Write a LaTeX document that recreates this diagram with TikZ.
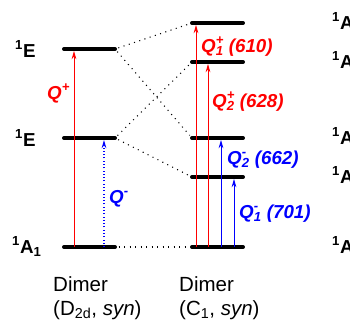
\documentclass[tikz,border=0pt]{standalone}
\usepackage{fontspec}
\setmainfont{Liberation Sans}
\usetikzlibrary{arrows.meta}

\newcommand\Qss[2]{\textit{Q}\rlap{\textsuperscript{#1}}\textsubscript{#2}}

\tikzset{
  level/.style={line width=3.4pt, line cap=round},
  link/.style={line width=0.9pt, dash pattern=on 0.9pt off 3.8pt, shorten <=3pt, shorten >=3pt},
  qplus/.style={red, line width=0.8pt, -{Stealth[length=7pt,width=4pt]}, shorten >=1.7pt},
  qminus/.style={blue, line width=0.8pt, -{Stealth[length=7pt,width=4pt]}, shorten >=1.7pt},
  qlab/.style={anchor=base west, inner sep=0pt, font=\fontsize{16}{18}\selectfont\bfseries\itshape},
  state/.style={anchor=base west, inner sep=0pt, font=\fontsize{16}{18}\selectfont\bfseries},
  caption/.style={anchor=base west, inner sep=0pt, font=\fontsize{17.5}{20}\selectfont},
}

\begin{document}
\begin{tikzpicture}[x=0.03cm, y=-0.03cm]
\useasboundingbox (0,0) rectangle (350,323);

% left: dimer D2d
\coordinate (dA) at (64,247);
\coordinate (dE1) at (64,138);
\coordinate (dE2) at (64,49);
\foreach \s in {dA, dE1, dE2}
  \draw[level] (\s) -- ++(51,0) coordinate (\s e);

% right: dimer C1
\coordinate (cA) at (192,247);
\coordinate (cB1) at (192,177);
\coordinate (cB2) at (192,138);
\coordinate (cB3) at (192,62);
\coordinate (cB4) at (192,23);
\foreach \s in {cA, cB1, cB2, cB3, cB4}
  \draw[level] (\s) -- ++(51,0);

% correlation
\draw[link] (dE2e) -- (cB4);
\draw[link] (dE2e) -- (cB2);
\draw[link] (dE1e) -- (cB3);
\draw[link] (dE1e) -- (cB1);
\draw[link] (dAe) -- (cA);

% transitions
\coordinate (t1) at (74,247);
\coordinate (t2) at (104,247);
\draw[qplus] (t1) -- (t1 |- dE2);
\draw[qminus, dotted, line width=1pt] (t2) -- (t2 |- dE1);
\node[qlab, red] (lq1) at (47,99) {Q\textsuperscript{+}};
\node[qlab, blue] (lq2) at (109,203) {Q\textsuperscript{-}};

\coordinate (u1) at (196,247);
\coordinate (u2) at (208,247);
\coordinate (u3) at (221,247);
\coordinate (u4) at (234,247);
\draw[qplus] (u1) -- (u1 |- cB4);
\draw[qplus] (u2) -- (u2 |- cB3);
\draw[qminus] (u3) -- (u3 |- cB2);
\draw[qminus] (u4) -- (u4 |- cB1);
\node[qlab, red] (lu1) at (201,52) {\Qss{+}{1} (610)};
\node[qlab, red] (lu2) at (212,107) {\Qss{+}{2} (628)};
\node[qlab, blue] (lu3) at (227,164) {\Qss{-}{2} (662)};
\node[qlab, blue] (lu4) at (239,218) {\Qss{-}{1} (701)};

% state labels
\node[state] (sE2) at (15,57) {\textsuperscript{1}E};
\node[state] (sE1) at (15,146) {\textsuperscript{1}E};
\node[state] (sA) at (12,253) {\textsuperscript{1}A\textsubscript{1}};
\foreach \s/\y in {a/23, b/62, c/138, d/177, e/247}
  \node[state] (r\s) at (332,\y+6) {\textsuperscript{1}A};

% captions
\node[caption] (n1) at (53,291) {Dimer};
\node[caption] (n2) at (53,315) {(D\textsubscript{2d}, \textit{syn})};
\node[caption] (n3) at (179,291) {Dimer};
\node[caption] (n4) at (179,315) {(C\textsubscript{1}, \textit{syn})};
\end{tikzpicture}
\end{document}
